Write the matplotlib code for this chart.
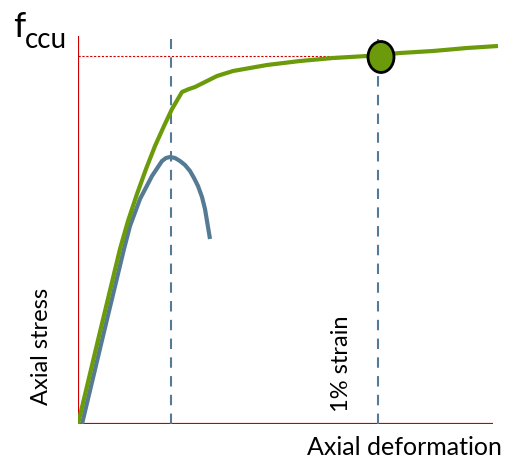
import matplotlib
matplotlib.use("Agg")
import matplotlib.pyplot as plt
from matplotlib.patches import Ellipse

# Data (arbitrary units: axial deformation vs axial stress)
confined_x = [0, 21, 42, 50, 59, 68, 77, 86, 94, 104, 111, 117, 127, 139, 155, 189, 222, 255, 289, 322, 355, 389, 420]
confined_y = [0, 88, 175, 203, 230, 255, 278, 298, 315, 332, 335, 337, 342, 348, 353, 359, 363, 366, 368, 371, 373, 376, 378]
unconfined_x = [4, 25, 46, 52, 62, 74, 80, 84, 88, 92, 97, 102, 107, 112, 116, 120, 124, 127, 132]
unconfined_y = [0, 88, 175, 198, 225, 248, 257, 263, 266, 267, 266, 263, 259, 253, 246, 238, 227, 215, 185]
peak_strain_x = 93
one_pct_strain_x = 300
fccu_y = 368
fccu_x = 303

W, H = 506, 460
fig = plt.figure(figsize=(W / 100, H / 100), dpi=100)
x0, y0 = 78, 425
ax = fig.add_axes([x0 / W, (H - y0) / H, (W - x0) / W, y0 / H])
ax.set_xlim(0, W - x0)
ax.set_ylim(0, y0)
ax.axis("off")

green = "#6b9a0a"
blue = "#557b94"
red = "#cc0000"

# axes lines
ax.plot([0, 0], [0, 388], color=red, lw=1.6, solid_capstyle="butt")
ax.plot([0, 415], [0, 0], color=red, lw=1.6, solid_capstyle="butt")

# dashed verticals
ax.plot([peak_strain_x, peak_strain_x], [0, 385], color=blue, lw=1.5, ls=(0, (5, 4)))
ax.plot([one_pct_strain_x, one_pct_strain_x], [0, 385], color=blue, lw=1.5, ls=(0, (5, 4)))

# dotted horizontal
ax.plot([0, fccu_x], [fccu_y, fccu_y], color=red, lw=0.8, ls=(0, (2, 1.5)))

# curves
ax.plot(unconfined_x, unconfined_y, color=blue, lw=3, solid_capstyle="butt",
        solid_joinstyle="round", zorder=3)
ax.plot(confined_x, confined_y, color=green, lw=3, solid_capstyle="butt",
        solid_joinstyle="round", zorder=4)

ax.add_patch(Ellipse((fccu_x, fccu_y - 1), 26, 31, facecolor=green, edgecolor="black", lw=2, zorder=5))

font = ["Lato", "DejaVu Sans"]
fig.text(13 / W, 1 - 37 / H, "f", fontsize=25, family=font, ha="left", va="baseline", color="black")
fig.text(25 / W, 1 - 48 / H, "ccu", fontsize=20, family=font, ha="left", va="baseline", color="black")
fig.text(41 / W, 1 - 346 / H, "Axial stress", fontsize=17, family=font, rotation=90, ha="center", va="center")
fig.text(404 / W, 1 - 448 / H, "Axial deformation", fontsize=18, family=font, ha="center", va="center")
fig.text(342 / W, 1 - 364 / H, "1% strain", fontsize=17, family=font, rotation=90, ha="center", va="center")

fig.savefig("out.png", dpi=100)
